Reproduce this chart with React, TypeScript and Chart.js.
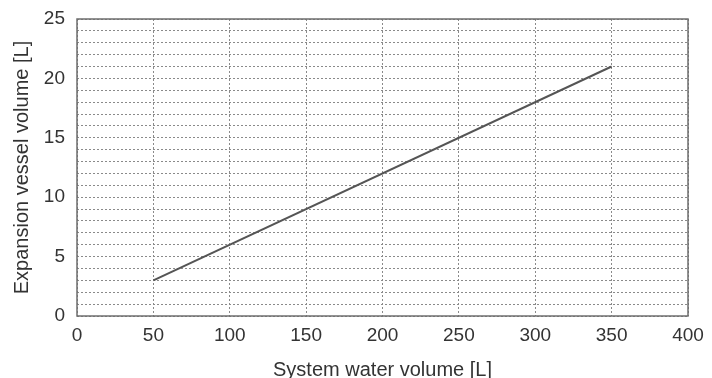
import React, { useEffect, useRef } from "react";
import { Chart, registerables } from "chart.js";

Chart.register(...registerables);

const systemWater = [50, 350];
const vesselVolume = [3, 21];
const xTicks = [0, 50, 100, 150, 200, 250, 300, 350, 400];
const yLabelTicks = [0, 5, 10, 15, 20, 25];
const xTitle = "System water volume [L]";
const yTitle = "Expansion vessel volume [L]";

const borderPlugin = {
  id: "frame",
  afterDraw(chart: any) {
    const { ctx, chartArea } = chart;
    ctx.save();
    ctx.strokeStyle = "#6e6e6e";
    ctx.lineWidth = 1.5;
    ctx.strokeRect(chartArea.left, chartArea.top, chartArea.right - chartArea.left, chartArea.bottom - chartArea.top);
    ctx.restore();
  },
};

export default function App() {
  const ref = useRef<HTMLCanvasElement>(null);
  useEffect(() => {
    document.body.style.margin = "0";
    const tickFont = { family: "'Liberation Sans', Arial, sans-serif", size: 19 };
    const titleFont = { family: "'Liberation Sans', Arial, sans-serif", size: 20 };
    const chart = new Chart(ref.current!, {
      type: "line",
      data: {
        datasets: [
          {
            data: systemWater.map((x, i) => ({ x, y: vesselVolume[i] })),
            borderColor: "#555555",
            borderWidth: 2,
            pointRadius: 0,
            fill: false,
          },
        ],
      },
      options: {
        animation: false,
        responsive: false,
        maintainAspectRatio: false,
        layout: { padding: { top: 19, right: 24, left: 0, bottom: 0 } },
        plugins: { legend: { display: false }, tooltip: { enabled: false } },
        scales: {
          x: {
            type: "linear",
            min: 0,
            max: 400,
            afterBuildTicks: (s: any) => {
              s.ticks = xTicks.map((v) => ({ value: v }));
            },
            afterFit: (s: any) => {
              s.height = 62;
              s.paddingLeft = 0;
              s.paddingRight = 0;
            },
            grid: { color: "#8a8a8a", drawTicks: false },
            border: { display: false, dash: [2, 2] },
            ticks: { font: tickFont, color: "#333", padding: 8, maxRotation: 0 },
            title: { display: true, text: xTitle, font: titleFont, color: "#333", padding: { top: 0, bottom: -4 } },
          },
          y: {
            type: "linear",
            min: 0,
            max: 25,
            ticks: {
              stepSize: 1,
              autoSkip: false,
              font: tickFont,
              color: "#333",
              padding: 12,
              callback: (v: any) => (yLabelTicks.includes(Number(v)) ? String(v) : ""),
            },
            afterFit: (s: any) => {
              s.width = 77;
              s.paddingTop = 0;
              s.paddingBottom = 0;
            },
            grid: { color: "#8a8a8a", drawTicks: false },
            border: { display: false, dash: [2, 2] },
            title: { display: true, text: yTitle, font: titleFont, color: "#333", padding: { top: 10, bottom: 0 } },
          },
        },
      },
      plugins: [borderPlugin],
    } as any);
    return () => chart.destroy();
  }, []);
  return (
    <div style={{ position: "absolute", left: 0, top: 0, width: 712, height: 378 }}>
      <canvas ref={ref} width={712} height={378} style={{ width: 712, height: 378 }} />
    </div>
  );
}
